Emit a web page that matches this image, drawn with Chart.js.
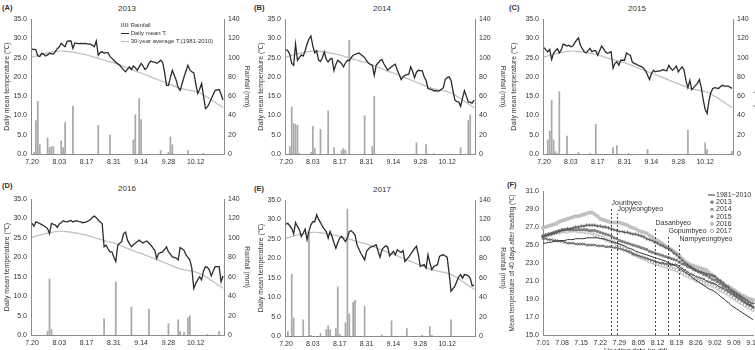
<!DOCTYPE html>
<html>
<head>
<meta charset="utf-8">
<script src="https://cdn.jsdelivr.net/npm/chart.js@4.4.1/dist/chart.umd.min.js"></script>
<style>
body { margin: 0; width: 755px; height: 350px; overflow: hidden; background: #fff; position: relative;
       font-family: "Liberation Sans", Arial, sans-serif; color: #333; }
canvas { position: absolute; }
.t { position: absolute; white-space: nowrap; line-height: 1; }
.year { font-size: 8px; transform: translateX(-50%); }
.tag { font-size: 7.5px; font-weight: bold; }
.leg { font-size: 6px; }
</style>
</head>
<body>
<div class="t tag" style="left:2px;top:4px">(A)</div>
<div class="t tag" style="left:254px;top:4px">(B)</div>
<div class="t tag" style="left:509px;top:4px">(C)</div>
<div class="t tag" style="left:2px;top:182px">(D)</div>
<div class="t tag" style="left:254px;top:185px">(E)</div>
<div class="t tag" style="left:507px;top:181px">(F)</div>
<div class="t year" style="left:127px;top:5px">2013</div>
<div class="t year" style="left:382px;top:5px">2014</div>
<div class="t year" style="left:637px;top:5px">2015</div>
<div class="t year" style="left:127px;top:185px">2016</div>
<div class="t year" style="left:382px;top:186px">2017</div>

<canvas id="cA" width="254" height="170" style="left:0;top:0"></canvas>
<canvas id="cB" width="256" height="170" style="left:254px;top:0"></canvas>
<canvas id="cC" width="257" height="170" style="left:507px;top:0"></canvas>
<canvas id="cD" width="254" height="180" style="left:0;top:170px"></canvas>
<canvas id="cE" width="256" height="180" style="left:254px;top:170px"></canvas>
<canvas id="cF" width="265" height="180" style="left:505px;top:170px"></canvas>

<div class="t leg" style="left:121px;top:22px"><span style="display:inline-block;width:8px;height:4px;vertical-align:middle;background:repeating-linear-gradient(90deg,#999 0 1px,#ddd 1px 2px)"></span> Rainfall</div>
<div class="t leg" style="left:121px;top:30px"><span style="display:inline-block;width:8px;height:1.3px;vertical-align:middle;background:#2b2b2b"></span> Daily mean T.</div>
<div class="t leg" style="left:121px;top:38px"><span style="display:inline-block;width:8px;height:1.2px;vertical-align:middle;background:#bbb"></span> 30-year average T.(1981-2010)</div>
<div class="t" style="left:604px;top:347px;font-size:7px">Heading date (m.dd)</div>

<script>
// daily values, 7.20 .. 10.26
const temp2013 = [27.2,27.1,27.0,25.4,25.3,26.1,25.9,25.4,25.7,26.1,
  26.0,25.9,26.6,27.3,27.8,28.7,28.2,27.8,29.2,29.3,
  29.3,27.4,28.8,28.7,28.6,28.7,28.6,28.7,28.6,28.5,
  28.5,28.2,27.8,29.3,25.6,26.3,26.5,26.1,26.3,26.3,
  25.3,24.8,24.3,23.8,23.4,23.0,22.4,21.8,21.3,22.0,
  22.6,21.9,22.8,22.4,21.7,22.6,23.5,22.8,21.9,22.4,
  23.5,24.1,23.9,23.8,23.5,23.8,24.3,23.8,21.3,17.8,
  17.8,19.8,21.7,20.4,19.1,17.2,16.5,18.2,20.0,21.5,
  23.0,21.8,21.3,21.0,18.3,15.7,16.8,18.3,15.0,11.8,
  12.2,13.2,14.3,15.5,16.5,16.6,16.7,15.5,14.0];
const temp2014 = [27.1,26.8,25.8,23.5,23.0,28.5,24.3,25.0,25.7,25.4,
  26.8,28.5,29.8,30.6,28.0,26.2,26.8,24.3,24.0,25.0,
  26.5,24.5,23.9,24.6,24.8,21.6,23.2,24.3,23.9,23.4,
  22.6,23.6,24.3,24.2,25.0,25.6,25.8,26.0,26.2,25.8,
  25.4,25.0,24.2,23.6,23.2,23.0,20.4,23.0,23.6,24.2,
  24.5,23.4,22.6,21.7,22.2,22.6,23.0,23.3,21.8,20.6,
  19.3,20.0,20.4,20.6,20.7,22.6,21.4,19.8,21.2,21.7,
  21.6,21.6,20.0,19.1,17.0,16.8,16.7,16.4,16.4,16.3,
  16.4,16.8,17.2,19.3,19.8,20.0,19.1,16.5,14.0,13.6,
  13.5,12.4,14.5,16.4,15.0,13.5,13.4,13.2,14.0];
const temp2015 = [27.6,27.0,26.5,27.1,24.5,26.1,26.8,27.3,26.2,27.0,
  28.5,28.3,28.0,28.2,27.8,28.0,28.8,29.5,30.1,28.2,
  27.3,26.5,26.2,26.8,27.4,26.5,26.8,26.8,25.6,26.8,
  28.0,27.3,26.5,26.1,26.3,26.5,22.2,23.5,23.9,23.0,
  24.3,24.3,24.3,26.2,25.8,25.6,23.9,23.5,23.3,23.0,
  22.8,22.6,22.2,21.5,20.4,19.3,20.8,21.7,21.3,21.5,
  21.5,21.6,21.9,21.7,21.6,23.0,22.3,21.7,22.2,22.8,
  21.3,22.0,22.6,21.7,19.0,17.2,19.1,16.7,17.2,17.8,
  18.3,19.3,17.2,14.0,11.5,10.5,13.9,16.0,17.0,17.2,
  17.1,17.0,17.5,17.8,17.6,17.6,17.6,17.3,17.0];
const temp2016 = [28.7,28.0,29.1,28.9,28.7,28.4,28.1,27.8,27.4,26.1,
  28.7,28.5,28.3,27.7,28.6,28.9,29.4,29.2,29.1,29.3,
  29.5,29.1,29.3,29.4,29.2,29.1,28.9,29.0,29.1,29.4,
  29.7,30.3,30.6,30.2,29.6,29.1,28.7,22.7,23.1,22.2,
  21.4,21.4,20.0,18.9,23.1,23.6,24.0,26.1,26.5,24.4,
  23.5,22.7,23.2,23.6,24.0,24.4,24.0,23.7,24.0,24.2,
  23.6,23.1,22.4,21.8,19.7,21.0,21.2,21.4,22.0,22.7,
  21.4,20.8,20.1,20.0,19.8,19.3,22.5,22.2,21.8,20.6,
  20.0,19.3,17.2,12.0,13.3,14.2,15.0,14.2,16.5,17.6,
  17.4,16.7,15.2,16.5,17.6,17.6,17.6,13.7,15.2];
const temp2017 = [28.8,29.0,28.3,27.7,26.3,29.2,28.2,27.3,25.6,26.5,
  27.5,24.8,27.0,28.6,29.4,29.4,31.2,30.0,29.2,28.2,
  27.5,26.9,25.2,26.9,25.6,24.0,22.6,24.0,25.2,25.6,
  25.0,24.3,25.2,26.9,27.1,26.6,26.0,23.5,22.4,21.3,
  20.5,19.6,21.8,22.4,22.9,23.0,23.2,23.5,21.8,20.3,
  22.2,22.8,23.2,22.9,20.6,21.2,21.8,20.9,22.2,21.8,
  21.5,22.0,19.2,19.8,20.3,21.1,21.8,22.5,23.1,20.9,
  17.9,18.2,18.4,17.5,20.9,18.8,17.1,17.9,18.1,18.4,
  20.5,20.8,20.9,20.6,20.3,16.2,11.5,12.2,12.8,14.0,
  15.2,15.8,14.9,15.8,15.7,15.5,14.9,13.0,13.0];
const avg30 = [25.1,25.3,25.4,25.6,25.7,25.9,26.0,26.1,26.2,26.3,
  26.4,26.5,26.6,26.6,26.7,26.7,26.7,26.6,26.6,26.5,
  26.5,26.4,26.3,26.2,26.1,26.0,25.9,25.8,25.7,25.5,
  25.4,25.2,25.1,24.9,24.8,24.6,24.5,24.3,24.2,24.0,
  23.9,23.8,23.7,23.5,23.3,23.1,22.9,22.7,22.5,22.3,
  22.1,21.9,21.7,21.5,21.3,21.2,21.0,20.8,20.6,20.4,
  20.2,20.0,19.8,19.6,19.4,19.2,19.0,18.8,18.6,18.4,
  18.2,18.0,17.8,17.6,17.4,17.2,17.0,16.9,16.8,16.7,
  16.6,16.5,16.4,16.3,16.2,16.0,15.8,15.6,15.3,15.0,
  14.7,14.4,14.0,13.7,13.4,13.0,12.7,12.4,12.0];

const rain2013 = [0,2,35,55,10,0,0,0,17,7, 8,8,0,0,0,14,7,33,0,0, 0,50,0,0,0,0,0,0,0,0,
  0,0,0,0,30,0,0,0,0,0, 20,0,0,0,0,0,0,0,0,0, 0,0,15,41,0,58,36,0,0,0,
  0,0,0,0,0,0,4,0,0,0, 2,18,10,0,0,0,0,0,0,0, 4,0,0,0,0,0,0,0,1,0, 0,0,0,0,0,0,0,0,0];
const rain2014 = [0,0,8,49,32,31,30,1,0,0, 0,0,0,2,29,6,0,0,26,0, 0,0,45,0,0,7,0,0,0,4,
  6,4,0,118,0,0,0,0,0,0, 0,40,0,0,0,8,60,0,0,0, 0,0,0,0,0,0,0,0,0,0,
  0,0,0,0,0,0,0,0,12,0, 0,0,0,10,0,0,0,1,0,0, 0,0,0,0,0,0,0,0,0,0, 0,7,0,0,0,35,41,0,0];
const rain2015 = [0,0,15,24,56,15,3,1,65,0, 0,0,19,0,0,0,0,0,2,0, 0,0,0,0,1,0,0,31,0,0,
  0,0,0,0,0,0,7,0,9,0, 0,0,0,0,1,0,0,0,0,0, 0,0,0,0,5,0,0,0,0,0,
  0,0,0,0,0,0,0,0,0,0, 0,0,0,0,0,25,0,0,0,0, 0,0,0,0,12,5,0,0,0,0, 0,0,0,0,0,0,0,0,3];
const rain2016 = [0,0,0,0,0,0,0,0,4,58, 6,0,0,0,0,0,0,0,0,0, 0,0,0,0,0,0,0,0,0,0,
  0,0,0,0,0,0,0,17,0,0, 0,0,0,55,0,0,0,0,0,0, 0,29,0,0,0,0,0,0,0,0,
  27,0,0,0,0,0,0,0,0,0, 12,0,0,0,0,16,4,0,3,0, 18,20,0,0,0,0,0,0,0,0, 1,0,0,0,0,0,4,0,0];
const rain2017 = [0,5,0,64,19,0,0,0,0,17, 0,0,107,1,0,0,0,0,3,0, 0,7,11,7,0,0,8,51,2,0,
  0,14,131,23,0,35,37,0,0,0, 0,31,0,0,0,0,0,0,0,0, 1.5,0,0,0,0,16,0,0,0,0,
  0,0,0,8,0,0,0,0,0,0, 0,1,0,0,0,10,1,0,0,0, 0,0,0,0,0,0,17,0,0,0, 0,0,0,0,0,0,0,0,0];

// mean temperature of 40 days after heading, 7.01 .. 9.16
const heading8110 = [25.2,25.2,25.3,25.3,25.4,25.4,25.5, 25.5,25.5,25.6,25.6,25.6,25.7,25.7,
  25.7,25.7,25.8,25.8,25.8,25.8,25.8, 25.7,25.7,25.6,25.5,25.4,25.3,25.2,
  25.1,25.0,24.9,24.7,24.6,24.5,24.3, 24.2,24.1,24.0,23.9,23.8,23.7,23.6,
  23.5,23.4,23.3,23.2,23.0,22.9,22.8, 22.6,22.4,22.2,22.0,21.8,21.6,21.3,
  21.1,20.9,20.7,20.5,20.3,20.1,20.0, 19.8,19.6,19.3,19.1,18.8,18.6,18.3,
  18.1,17.9,17.7,17.5,17.3,17.1,16.9, 16.7];
const heading2013 = [26.0,26.1,26.2,26.2,26.3,26.4,26.5, 26.6,26.7,26.8,26.8,26.9,27.0,27.0,
  27.1,27.1,27.2,27.2,27.2,27.2,27.1, 27.1,27.0,27.0,26.9,26.8,26.7,26.6,
  26.5,26.5,26.4,26.4,26.3,26.2,26.2, 26.1,26.0,25.9,25.7,25.6,25.5,25.3,
  25.2,25.0,24.9,24.7,24.6,24.4,24.1, 23.9,23.6,23.3,23.0,22.8,22.6,22.4,
  22.2,22.1,22.0,21.9,21.8,21.7,21.6, 21.5,21.2,21.0,20.8,20.5,20.3,20.0,
  19.8,19.6,19.4,19.2,19.0,18.8,18.6, 18.5];
const heading2014 = [25.7,25.7,25.6,25.6,25.5,25.5,25.4, 25.4,25.3,25.2,25.2,25.2,25.1,25.1,
  25.1,25.1,25.0,25.0,25.0,25.0,24.9, 24.9,24.9,24.8,24.8,24.8,24.7,24.7,
  24.6,24.5,24.4,24.3,24.2,24.0,23.9, 23.8,23.7,23.6,23.5,23.4,23.3,23.2,
  23.1,23.0,23.0,22.9,22.9,22.8,22.8, 22.8,22.6,22.4,22.2,22.0,21.8,21.7,
  21.5,21.4,21.3,21.2,21.0,20.9,20.8, 20.7,20.5,20.3,20.2,20.0,19.8,19.6,
  19.4,19.2,19.0,18.8,18.6,18.4,18.3, 18.1];
const heading2015 = [25.9,26.0,26.1,26.3,26.4,26.5,26.6, 26.7,26.7,26.7,26.7,26.7,26.7,26.7,
  26.7,26.7,26.7,26.6,26.6,26.6,26.5, 26.4,26.3,26.2,26.1,26.0,25.8,25.7,
  25.5,25.4,25.3,25.2,25.1,25.0,24.9, 24.8,24.7,24.6,24.5,24.3,24.2,24.1,
  24.0,23.9,23.8,23.7,23.6,23.5,23.4, 23.3,23.1,22.9,22.8,22.6,22.5,22.3,
  22.2,22.0,21.9,21.7,21.6,21.4,21.2, 21.1,20.9,20.7,20.5,20.3,20.0,19.8,
  19.6,19.4,19.2,19.0,18.7,18.5,18.3, 18.1];
const heading2016 = [26.9,27.0,27.1,27.2,27.3,27.4,27.6, 27.7,27.8,27.9,28.0,28.1,28.2,28.2,
  28.3,28.4,28.5,28.6,28.6,28.4,28.2, 27.9,27.8,27.7,27.6,27.5,27.5,27.5,
  27.5,27.4,27.3,27.2,27.0,26.9,26.8, 26.6,26.5,26.4,26.3,26.1,25.9,25.7,
  25.5,25.3,25.1,24.9,24.7,24.5,24.3, 24.1,23.8,23.5,23.2,23.0,22.8,22.7,
  22.6,22.5,22.4,22.3,22.2,21.9,21.7, 21.5,21.2,21.0,20.7,20.5,20.4,20.2,
  20.0,19.8,19.6,19.4,19.3,19.1,19.0, 18.9];
const heading2017 = [26.0,26.1,26.2,26.2,26.3,26.4,26.4, 26.5,26.5,26.5,26.6,26.6,26.6,26.5,
  26.5,26.5,26.4,26.4,26.3,26.1,26.0, 25.9,25.8,25.6,25.5,25.4,25.3,25.1,
  25.0,24.8,24.6,24.4,24.2,24.0,23.9, 23.7,23.6,23.5,23.4,23.2,23.1,23.0,
  22.9,22.8,22.7,22.6,22.5,22.4,22.3, 22.2,22.0,21.9,21.7,21.6,21.4,21.3,
  21.1,21.0,20.9,20.8,20.7,20.6,20.5, 20.4,20.2,20.0,19.9,19.7,19.5,19.3,
  19.1,18.9,18.7,18.5,18.3,18.1,18.0, 17.8];

const yearTicks = ['7.20', '8.03', '8.17', '8.31', '9.14', '9.28', '10.12'];
const headingTicks = ['7.01', '7.08', '7.15', '7.22', '7.29', '8.05', '8.12', '8.19', '8.26', '9.02', '9.09', '9.16'];
const cultivars = ['Jounbyeo', 'Jopyeongbyeo', 'Dasanbyeo', 'Gopumbyeo', 'Nampyeongbyeo'];
const cultivarHeading = ['7.26', '7.28', '8.11', '8.16', '8.20'];
const cultivarMarkTop = [29.2, 28.5, 26.9, 26.0, 25.2];

function dateLabels(month, day, count) {
    const out = [];
    for (let i = 0; i < count; i++) {
        const d = new Date(2017, month - 1, day + i);
        out.push((d.getMonth() + 1) + '.' + String(d.getDate()).padStart(2, '0'));
    }
    return out;
}
const days = dateLabels(7, 20, 99);
const headingDays = dateLabels(7, 1, 78);

Chart.defaults.font.family = '"Liberation Sans", Arial, sans-serif';
Chart.defaults.font.size = 7;
Chart.defaults.color = '#333';

const axisColor = '#8c8c8c';

function makeYearChart(id, temps, rain, box) {
    return new Chart(document.getElementById(id), {
        type: 'bar',
        data: {
            labels: days,
            datasets: [
                { type: 'line', label: 'Daily mean T.', data: temps, yAxisID: 'y',
                  borderColor: '#2b2b2b', borderWidth: 1.3, pointRadius: 0, order: 1 },
                { type: 'line', label: '30-year average T.(1981-2010)', data: avg30, yAxisID: 'y',
                  borderColor: '#bdbdbd', borderWidth: 1.2, pointRadius: 0, order: 2 },
                { type: 'bar', label: 'Rainfall', data: rain, yAxisID: 'y1',
                  backgroundColor: '#a9a9a9', barPercentage: 1, categoryPercentage: 0.9, order: 3 }
            ]
        },
        options: {
            responsive: false,
            animation: false,
            layout: { padding: { top: box.top, left: 0, right: 0, bottom: 0 } },
            plugins: { legend: { display: false }, tooltip: { enabled: false } },
            scales: {
                x: {
                    grid: { display: false, drawTicks: false }, border: { color: axisColor },
                    ticks: { autoSkip: false, maxRotation: 0, padding: 4,
                             callback: (v, i) => yearTicks.includes(days[i]) ? days[i] : '' },
                    afterFit: s => { s.height = box.xh; }
                },
                y: {
                    position: 'left', min: 0, max: 35,
                    grid: { display: false, drawTicks: false }, border: { color: axisColor },
                    ticks: { stepSize: 5, padding: 4, callback: v => v.toFixed(1) },
                    title: { display: true, text: 'Daily mean temperature (℃)', font: { size: 7 }, padding: 3 },
                    afterFit: s => { s.width = box.left; }
                },
                y1: {
                    position: 'right', min: 0, max: 140,
                    grid: { display: false, drawTicks: false }, border: { color: axisColor },
                    ticks: { stepSize: 20, padding: 4 },
                    title: { display: true, text: 'Rainfall (mm)', font: { size: 7 }, padding: 3 },
                    afterFit: s => { s.width = box.right; }
                }
            }
        }
    });
}

makeYearChart('cA', temp2013, rain2013, { top: 19, xh: 16, left: 31, right: 30 });
makeYearChart('cB', temp2014, rain2014, { top: 19, xh: 16, left: 31, right: 35 });
makeYearChart('cC', temp2015, rain2015, { top: 19, xh: 16, left: 36, right: 31 });
makeYearChart('cD', temp2016, rain2016, { top: 29, xh: 15, left: 31, right: 30 });
makeYearChart('cE', temp2017, rain2017, { top: 30, xh: 14, left: 31, right: 35 });

// dashed heading-date marks and the legend of panel F
const headingMarks = {
    id: 'headingMarks',
    afterDatasetsDraw(chart) {
        const { ctx, chartArea } = chart;
        const x = chart.scales.x, y = chart.scales.y;
        ctx.save();
        ctx.font = '7px "Liberation Sans", Arial, sans-serif';
        ctx.fillStyle = '#333';
        ctx.textBaseline = 'bottom';
        ctx.strokeStyle = '#444';
        ctx.lineWidth = 1;
        ctx.setLineDash([2, 2]);
        cultivars.forEach((name, i) => {
            const px = Math.round(x.getPixelForValue(headingDays.indexOf(cultivarHeading[i]))) + 0.5;
            const top = y.getPixelForValue(cultivarMarkTop[i]);
            ctx.beginPath();
            ctx.moveTo(px, chartArea.bottom);
            ctx.lineTo(px, top);
            ctx.stroke();
            ctx.fillText(name, px, top - 1);
        });
        ctx.setLineDash([]);

        // legend
        const lx = chartArea.right - 44;
        ctx.textBaseline = 'middle';
        chart.data.datasets.forEach((ds, i) => {
            const ly = chartArea.top + 4 + i * 7.2;
            const cx = lx + 3;
            ctx.strokeStyle = ds.borderColor;
            ctx.fillStyle = ds.pointBackgroundColor || ds.borderColor;
            ctx.lineWidth = 1;
            if (!ds.pointRadius) {
                ctx.beginPath(); ctx.moveTo(lx - 1, ly); ctx.lineTo(lx + 6, ly); ctx.stroke();
            } else if (ds.pointStyle === 'cross') {
                ctx.beginPath(); ctx.moveTo(cx - 2, ly); ctx.lineTo(cx + 2, ly);
                ctx.moveTo(cx, ly - 2); ctx.lineTo(cx, ly + 2); ctx.stroke();
            } else if (ds.pointStyle === 'crossRot') {
                ctx.beginPath(); ctx.moveTo(cx - 1.5, ly - 1.5); ctx.lineTo(cx + 1.5, ly + 1.5);
                ctx.moveTo(cx + 1.5, ly - 1.5); ctx.lineTo(cx - 1.5, ly + 1.5); ctx.stroke();
            } else if (ds.pointStyle === 'rect') {
                ctx.fillRect(cx - 1.3, ly - 1.3, 2.6, 2.6);
            } else {
                ctx.beginPath(); ctx.arc(cx, ly, 1.6, 0, Math.PI * 2); ctx.fill(); ctx.stroke();
            }
            ctx.fillStyle = '#333';
            ctx.fillText(ds.label, lx + 7, ly);
        });
        ctx.restore();
    }
};

new Chart(document.getElementById('cF'), {
    type: 'line',
    data: {
        labels: headingDays,
        datasets: [
            { label: '1981~2010', data: heading8110, borderColor: '#333', borderWidth: 1, pointRadius: 0 },
            { label: '2013', data: heading2013, borderColor: '#555', borderWidth: 0.8,
              pointStyle: 'cross', pointRadius: 1.8, pointBorderWidth: 0.8 },
            { label: '2014', data: heading2014, borderColor: '#555', borderWidth: 0.8,
              pointStyle: 'crossRot', pointRadius: 1.8, pointBorderWidth: 0.8 },
            { label: '2015', data: heading2015, borderColor: '#7a7a7a', borderWidth: 0.8,
              pointStyle: 'rect', pointRadius: 1.4, pointBackgroundColor: '#7a7a7a' },
            { label: '2016', data: heading2016, borderColor: '#b3b3b3', borderWidth: 0.8,
              pointStyle: 'circle', pointRadius: 1.6, pointBackgroundColor: '#c8c8c8' },
            { label: '2017', data: heading2017, borderColor: '#a3a3a3', borderWidth: 0.8,
              pointStyle: 'circle', pointRadius: 1.6, pointBackgroundColor: '#fff' }
        ]
    },
    options: {
        responsive: false,
        animation: false,
        layout: { padding: { top: 21, left: 0, right: 17, bottom: 0 } },
        plugins: { legend: { display: false }, tooltip: { enabled: false } },
        scales: {
            x: {
                grid: { display: false, drawTicks: false }, border: { color: axisColor },
                ticks: { autoSkip: false, maxRotation: 0, padding: 4,
                         callback: (v, i) => headingTicks.includes(headingDays[i]) ? headingDays[i] : '' },
                afterFit: s => { s.height = 15; }
            },
            y: {
                min: 15, max: 31,
                grid: { display: false, drawTicks: false }, border: { color: axisColor },
                ticks: { stepSize: 2, padding: 4, callback: v => v.toFixed(1) },
                title: { display: true, text: 'Mean temperature of 40 days after heading (℃)', font: { size: 6.5 }, padding: 3 },
                afterFit: s => { s.width = 38; }
            }
        }
    },
    plugins: [headingMarks]
});
</script>
</body>
</html>
